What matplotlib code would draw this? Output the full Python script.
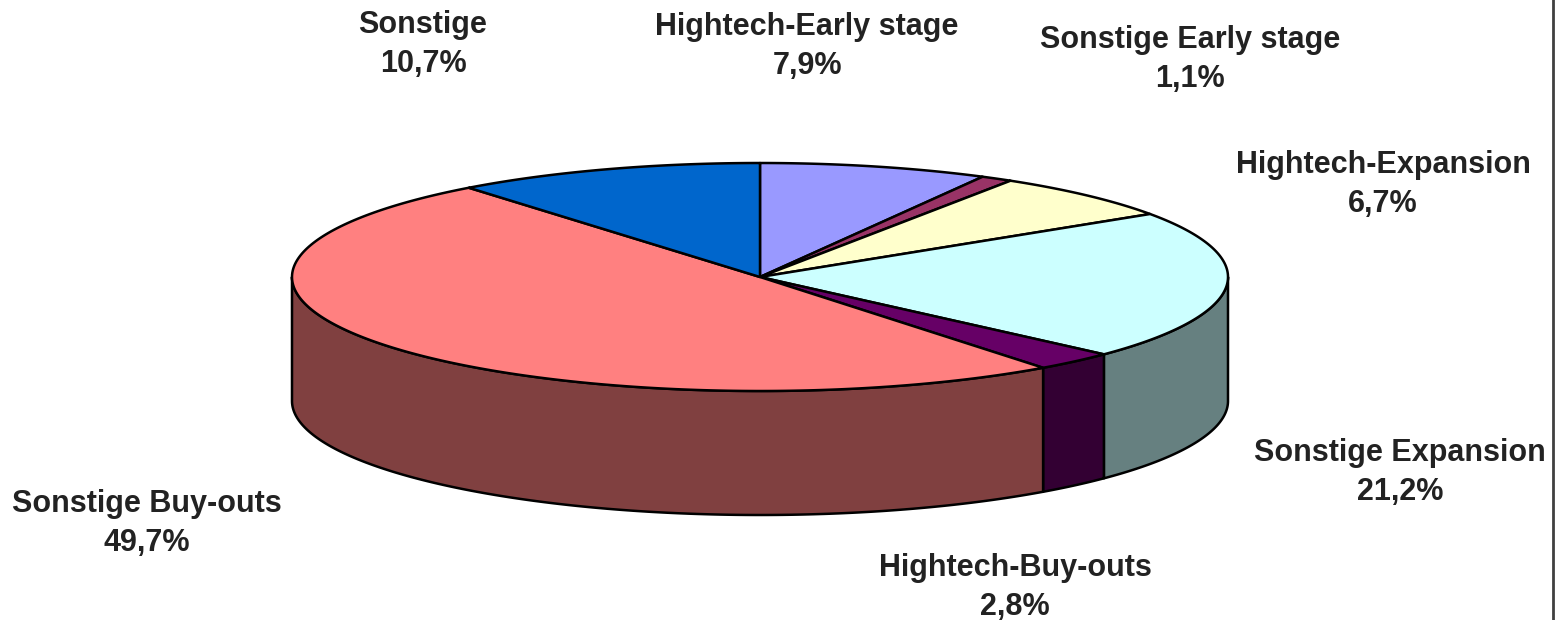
import numpy as np
import matplotlib
matplotlib.use("Agg")
import matplotlib.pyplot as plt

# im Uhrzeigersinn ab 12 Uhr
labels = ["Hightech-Early stage", "Sonstige Early stage", "Hightech-Expansion",
          "Sonstige Expansion", "Hightech-Buy-outs", "Sonstige Buy-outs", "Sonstige"]
values = [7.9, 1.1, 6.7, 21.2, 2.8, 49.7, 10.7]
value_text = ["7,9%", "1,1%", "6,7%", "21,2%", "2,8%", "49,7%", "10,7%"]
colors = ["#9999ff", "#993366", "#ffffcc", "#ccffff", "#660066", "#ff8080", "#0066cc"]
side_colors = ["#4d4d80", "#4d1a33", "#808066", "#668080", "#330033", "#804040", "#003366"]

# Mittelpunkt der Beschriftung in Pixeln
label_pos = [(807, 27), (1190, 40), (1383, 165), (1400, 453), (1015, 568), (147, 504), (423, 25)]

cx, cy, rx, ry, depth = 760, 277, 468, 114, 124

plt.rcParams["font.family"] = ["Liberation Sans", "DejaVu Sans"]
fig = plt.figure(figsize=(15.66, 6.2), dpi=100)
ax = fig.add_axes([0, 0, 1, 1])
ax.set_xlim(0, 1566)
ax.set_ylim(620, 0)
ax.axis("off")


def rim(a, b, n=200):
    t = np.radians(np.linspace(a, b, n))
    return cx + rx * np.sin(t), cy - ry * np.cos(t)


edges = np.concatenate([[0], np.cumsum(values)]) / sum(values) * 360

# Seitenwand: nur der vordere Teil (90..270 Grad) ist sichtbar
for i in range(len(values)):
    a, b = max(edges[i], 90), min(edges[i + 1], 270)
    if a >= b:
        continue
    x, y = rim(a, b)
    px = np.concatenate([x, x[::-1]])
    py = np.concatenate([y, y[::-1] + depth])
    ax.fill(px, py, facecolor=side_colors[i], edgecolor="black", lw=1.8, joinstyle="round")

# Deckel
for i in range(len(values)):
    x, y = rim(edges[i], edges[i + 1])
    ax.fill(np.r_[cx, x], np.r_[cy, y], facecolor=colors[i], edgecolor="black", lw=1.8,
            joinstyle="round")

# Rahmen rechts
ax.plot([1552.5, 1552.5], [0, 620], color="#404040", lw=2)

for name, val, (px, py) in zip(labels, value_text, label_pos):
    ax.text(px, py, name, ha="center", va="center", fontsize=22, fontweight="bold",
            color="#222222")
    ax.text(px, py + 39, val, ha="center", va="center", fontsize=22, fontweight="bold",
            color="#222222")

fig.savefig("out.png", dpi=100)
